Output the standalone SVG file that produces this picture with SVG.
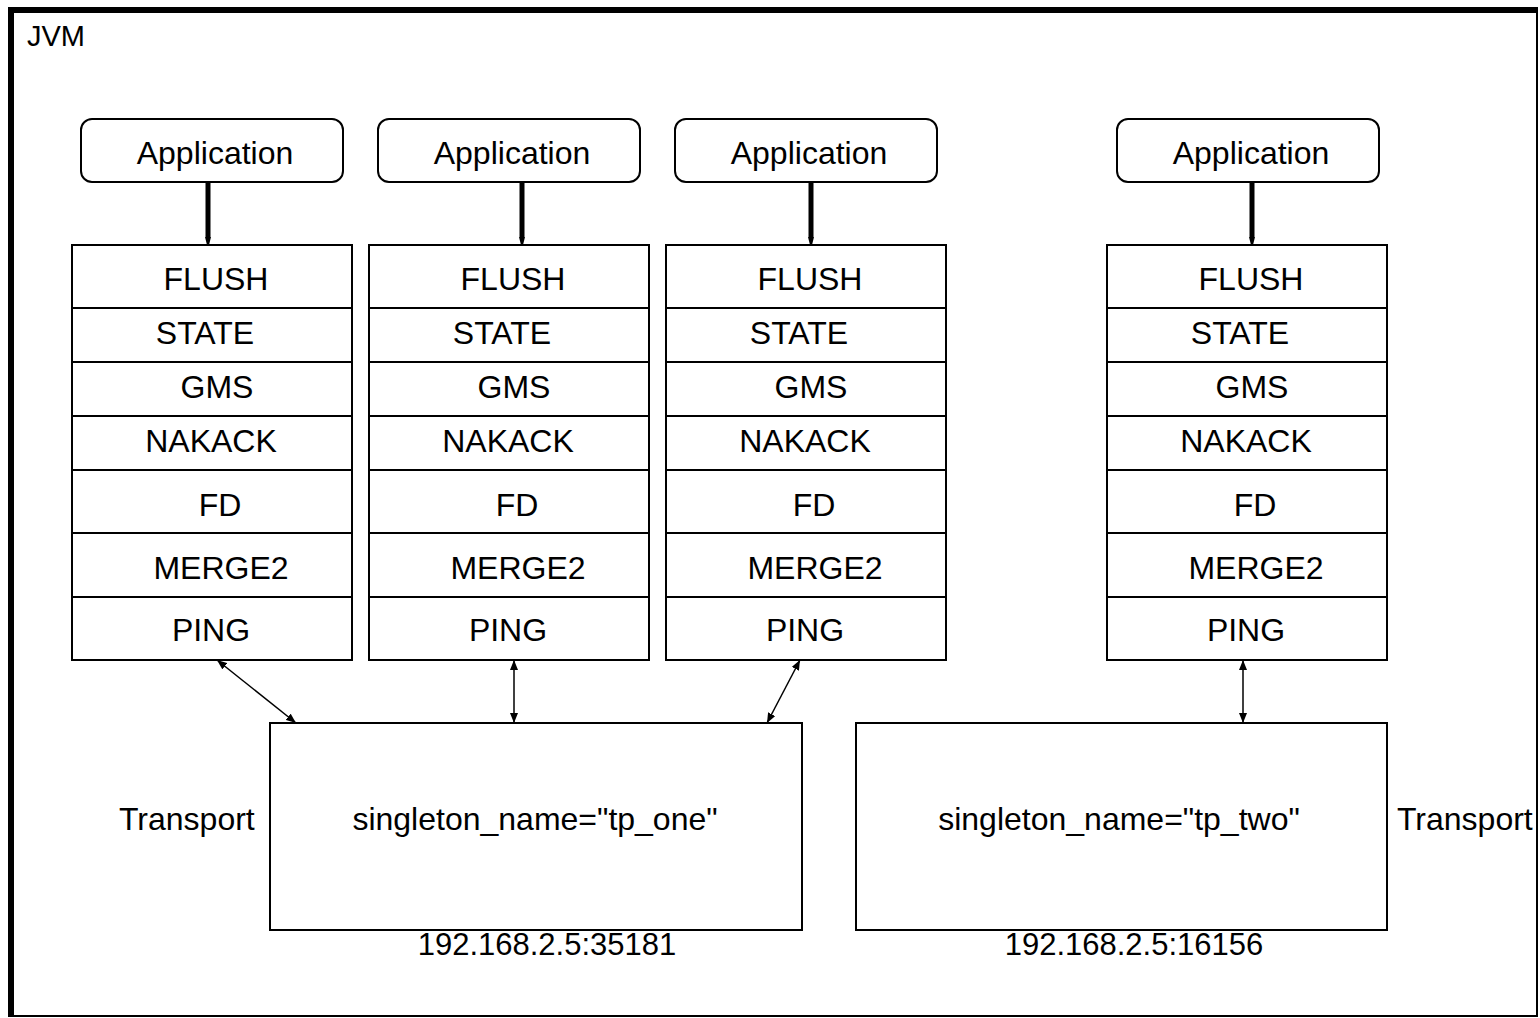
<svg xmlns="http://www.w3.org/2000/svg" width="1540" height="1018" viewBox="0 0 1540 1018">
<style>
text{font-family:"Liberation Sans",Arial,sans-serif;font-size:32px;fill:#000}
.c{text-anchor:middle}
.box{fill:#fff;stroke:#000;stroke-width:2}
.ln{stroke:#000;stroke-width:2}
.thick{stroke:#000;stroke-width:5}
.conn{stroke:#000;stroke-width:1.5;fill:none;marker-start:url(#ah);marker-end:url(#ah)}
</style>
<defs>
<marker id="ah" viewBox="0 0 10 8" refX="10" refY="4" markerWidth="10" markerHeight="8" markerUnits="userSpaceOnUse" orient="auto-start-reverse">
<path d="M0,0 L10,4 L0,8 z" fill="#000"/>
</marker>
<marker id="ahs" viewBox="0 0 8 6" refX="0" refY="3" markerWidth="8" markerHeight="6" markerUnits="userSpaceOnUse" orient="auto">
<path d="M0,0 L8,2 L8,4 L0,6 z" fill="#000"/>
</marker>
<g id="stackTpl">
<rect class="box" x="0" y="0" width="280" height="415"/>
<line class="ln" x1="0" y1="63" x2="280" y2="63"/>
<line class="ln" x1="0" y1="117" x2="280" y2="117"/>
<line class="ln" x1="0" y1="171" x2="280" y2="171"/>
<line class="ln" x1="0" y1="225" x2="280" y2="225"/>
<line class="ln" x1="0" y1="288" x2="280" y2="288"/>
<line class="ln" x1="0" y1="352" x2="280" y2="352"/>
<text class="c" x="144" y="45">FLUSH</text>
<text class="c" x="133" y="99">STATE</text>
<text class="c" x="145" y="153">GMS</text>
<text class="c" x="139" y="207">NAKACK</text>
<text class="c" x="148" y="271">FD</text>
<text class="c" x="149" y="334">MERGE2</text>
<text class="c" x="139" y="396">PING</text>
</g>
</defs>
<rect width="1540" height="1018" fill="#fff"/>
<g id="jvm">
<rect x="11" y="10" width="1526" height="1006" fill="none" stroke="#000" stroke-width="2"/>
<line x1="11" y1="7" x2="11" y2="1017" stroke="#000" stroke-width="6"/>
<line x1="8" y1="10" x2="1538" y2="10" stroke="#000" stroke-width="6"/>
<text x="27" y="46" style="font-size:29px">JVM</text>
</g>
<g id="app1"><rect class="box" x="81" y="119" width="262" height="63" rx="11"/><text class="c" x="215" y="164">Application</text></g>
<g id="app2"><rect class="box" x="378" y="119" width="262" height="63" rx="11"/><text class="c" x="512" y="164">Application</text></g>
<g id="app3"><rect class="box" x="675" y="119" width="262" height="63" rx="11"/><text class="c" x="809" y="164">Application</text></g>
<g id="app4"><rect class="box" x="1117" y="119" width="262" height="63" rx="11"/><text class="c" x="1251" y="164">Application</text></g>
<g id="stack1"><use href="#stackTpl" x="72" y="245"/></g>
<g id="stack2"><use href="#stackTpl" x="369" y="245"/></g>
<g id="stack3"><use href="#stackTpl" x="666" y="245"/></g>
<g id="stack4"><use href="#stackTpl" x="1107" y="245"/></g>
<g id="transport1">
<rect class="box" x="270" y="723" width="532" height="207"/>
<text class="c" x="535" y="830">singleton_name="tp_one"</text>
<text x="119" y="830">Transport</text>
<text class="c" x="547" y="955" style="font-size:31px">192.168.2.5:35181</text>
</g>
<g id="transport2">
<rect class="box" x="856" y="723" width="531" height="207"/>
<text class="c" x="1119" y="830">singleton_name="tp_two"</text>
<text x="1397" y="830">Transport</text>
<text class="c" x="1134" y="955" style="font-size:31px">192.168.2.5:16156</text>
</g>
<g id="connectors">
<line class="thick" x1="208" y1="182" x2="208" y2="237" marker-end="url(#ahs)"/>
<line class="thick" x1="522" y1="182" x2="522" y2="237" marker-end="url(#ahs)"/>
<line class="thick" x1="811" y1="182" x2="811" y2="237" marker-end="url(#ahs)"/>
<line class="thick" x1="1252" y1="182" x2="1252" y2="237" marker-end="url(#ahs)"/>
<line class="conn" x1="217" y1="660" x2="296" y2="723"/>
<line class="conn" x1="514" y1="660" x2="514" y2="723"/>
<line class="conn" x1="800" y1="660" x2="767" y2="723"/>
<line class="conn" x1="1243" y1="660" x2="1243" y2="723"/>
</g>
</svg>
